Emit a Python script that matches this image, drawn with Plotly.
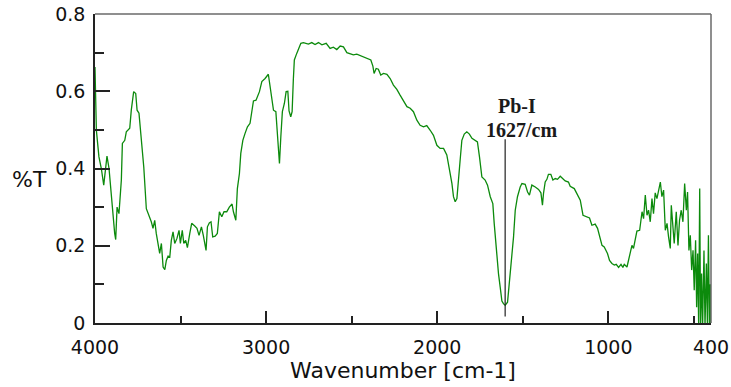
import plotly.graph_objects as go

# FTIR spectrum values
wavenumber = [
    4000, 3997, 3994, 3992, 3977, 3963, 3949, 3937, 3930, 3918, 3911, 3899, 3885, 3879, 3871, 3860,
    3846, 3840, 3826, 3817, 3797, 3788, 3774, 3762, 3754, 3743, 3729, 3715, 3700, 3684, 3671, 3661,
    3651, 3642, 3632, 3622, 3612, 3602, 3592, 3583, 3573, 3563, 3554, 3544, 3534, 3521, 3509, 3501,
    3490, 3481, 3470, 3460, 3446, 3435, 3417, 3404, 3392, 3378, 3367, 3351, 3343, 3332, 3322, 3312,
    3298, 3285, 3273, 3259, 3246, 3230, 3215, 3199, 3191, 3177, 3168, 3156, 3148, 3136, 3123, 3109,
    3094, 3084, 3074, 3059, 3039, 3025, 3006, 2987, 2977, 2967, 2957, 2943, 2934, 2928, 2922, 2914,
    2905, 2893, 2883, 2873, 2866, 2856, 2848, 2841, 2835, 2821, 2809, 2797, 2782, 2753, 2733, 2714,
    2694, 2674, 2649, 2626, 2607, 2587, 2567, 2548, 2528, 2509, 2490, 2470, 2441, 2411, 2388, 2376,
    2369, 2357, 2344, 2330, 2314, 2294, 2275, 2256, 2236, 2217, 2197, 2177, 2158, 2139, 2119, 2100,
    2080, 2061, 2041, 2022, 2002, 1983, 1963, 1944, 1928, 1914, 1905, 1895, 1885, 1876, 1866, 1856,
    1842, 1827, 1812, 1797, 1784, 1765, 1753, 1739, 1720, 1706, 1690, 1675, 1667, 1651, 1642, 1632,
    1622, 1613, 1603, 1589, 1578, 1564, 1554, 1544, 1531, 1515, 1505, 1486, 1472, 1461, 1447, 1427,
    1408, 1394, 1385, 1379, 1369, 1359, 1350, 1336, 1324, 1310, 1297, 1281, 1265, 1252, 1233, 1223,
    1199, 1184, 1164, 1148, 1129, 1110, 1096, 1077, 1063, 1051, 1037, 1024, 1012, 1005, 993, 979,
    965, 954, 940, 926, 915, 907, 891, 882, 872, 862, 853, 843, 833, 817, 809, 803,
    794, 784, 774, 765, 755, 745, 736, 726, 716, 706, 696, 687, 677, 667, 657, 648,
    638, 632, 622, 615, 603, 593, 584, 574, 564, 554, 544, 537, 529, 521, 513, 505,
    498, 490, 484, 478, 472, 466, 461, 455, 449, 441, 435, 427, 421, 415, 409, 404, 400,
]
transmittance = [
    0.663, 0.611, 0.560, 0.499, 0.430, 0.400, 0.357, 0.396, 0.432, 0.400, 0.361, 0.305, 0.232, 0.216, 0.300, 0.283,
    0.370, 0.465, 0.473, 0.495, 0.504, 0.551, 0.599, 0.594, 0.551, 0.543, 0.482, 0.404, 0.296, 0.279, 0.262, 0.245,
    0.266, 0.232, 0.206, 0.180, 0.206, 0.145, 0.138, 0.162, 0.173, 0.171, 0.214, 0.236, 0.206, 0.219, 0.240, 0.206,
    0.240, 0.206, 0.214, 0.195, 0.232, 0.258, 0.251, 0.245, 0.227, 0.249, 0.227, 0.188, 0.249, 0.259, 0.262, 0.223,
    0.225, 0.232, 0.288, 0.275, 0.288, 0.288, 0.300, 0.308, 0.288, 0.266, 0.348, 0.387, 0.439, 0.473, 0.491, 0.508,
    0.517, 0.551, 0.575, 0.577, 0.599, 0.625, 0.633, 0.644, 0.611, 0.581, 0.551, 0.547, 0.482, 0.430, 0.413, 0.482,
    0.547, 0.569, 0.599, 0.600, 0.549, 0.534, 0.547, 0.629, 0.681, 0.698, 0.711, 0.724, 0.726, 0.722, 0.726, 0.721,
    0.726, 0.720, 0.724, 0.711, 0.714, 0.708, 0.717, 0.715, 0.700, 0.696, 0.694, 0.696, 0.691, 0.685, 0.681, 0.665,
    0.646, 0.659, 0.657, 0.642, 0.646, 0.644, 0.633, 0.616, 0.605, 0.590, 0.573, 0.560, 0.556, 0.547, 0.525, 0.512,
    0.508, 0.511, 0.499, 0.486, 0.460, 0.452, 0.452, 0.435, 0.396, 0.361, 0.327, 0.314, 0.322, 0.361, 0.422, 0.473,
    0.489, 0.495, 0.489, 0.478, 0.475, 0.469, 0.430, 0.378, 0.370, 0.357, 0.327, 0.309, 0.258, 0.171, 0.128, 0.093,
    0.057, 0.050, 0.046, 0.054, 0.102, 0.162, 0.223, 0.292, 0.327, 0.352, 0.361, 0.359, 0.339, 0.331, 0.357, 0.352,
    0.346, 0.337, 0.305, 0.335, 0.365, 0.372, 0.385, 0.385, 0.370, 0.374, 0.372, 0.380, 0.372, 0.368, 0.365, 0.354,
    0.348, 0.335, 0.318, 0.279, 0.275, 0.272, 0.253, 0.256, 0.245, 0.223, 0.201, 0.197, 0.188, 0.180, 0.162, 0.154,
    0.150, 0.152, 0.144, 0.152, 0.144, 0.152, 0.145, 0.162, 0.188, 0.201, 0.193, 0.214, 0.238, 0.240, 0.275, 0.288,
    0.270, 0.331, 0.279, 0.292, 0.262, 0.322, 0.283, 0.337, 0.322, 0.346, 0.365, 0.327, 0.344, 0.240, 0.258, 0.223,
    0.193, 0.305, 0.249, 0.206, 0.288, 0.201, 0.266, 0.292, 0.262, 0.361, 0.292, 0.339, 0.188, 0.227, 0.137, 0.188,
    0.085, 0.214, 0.041, 0.180, -0.01, 0.348, -0.01, 0.128, -0.01, 0.188, -0.01, 0.154, -0.01, 0.227, -0.01, 0.100, -0.01,
]

x_tickvals = [4000, 3000, 2000, 1000, 400]
x_minor_tickvals = [3500, 2500, 1500, 500]
y_tickvals = [0, 0.2, 0.4, 0.6, 0.8]
y_ticktext = ["0", "0.2", "0.4", "0.6", "0.8"]

peak_name = "Pb-I"
peak_label = "1627/cm"
peak_position = 1603
peak_marker_range = [0.017, 0.476]

fig = go.Figure()
fig.add_trace(go.Scatter(
    x=wavenumber, y=transmittance, mode="lines",
    line=dict(color="#0c8a0c", width=1.3), showlegend=False,
))

fig.add_shape(type="line", xref="x", yref="y",
              x0=peak_position, x1=peak_position,
              y0=peak_marker_range[0], y1=peak_marker_range[1],
              line=dict(color="#222222", width=1.2))

# gray top / right frame
fig.add_shape(type="line", xref="paper", yref="paper", x0=0, x1=1, y0=1, y1=1,
              line=dict(color="#6a6a6a", width=1.5))
fig.add_shape(type="line", xref="paper", yref="paper", x0=1, x1=1, y0=0, y1=1,
              line=dict(color="#6a6a6a", width=1.5))

serif = dict(family="Liberation Serif", size=20, color="#1a1a1a")
fig.add_annotation(text="<b>" + peak_name + "</b>", xref="x", yref="y", x=1535, y=0.561,
                   showarrow=False, font=serif, xanchor="center", yanchor="middle")
fig.add_annotation(text="<b>" + peak_label + "</b>", xref="x", yref="y", x=1505, y=0.500,
                   showarrow=False, font=serif, xanchor="center", yanchor="middle")
fig.add_annotation(text="%T", xref="paper", yref="paper", x=-0.075, y=0.464,
                   xanchor="right", yanchor="middle", showarrow=False,
                   font=dict(family="DejaVu Sans", size=22, color="#111"))

fig.update_layout(
    width=731, height=387,
    margin=dict(l=95, r=20, t=14, b=64),
    paper_bgcolor="white", plot_bgcolor="white",
    font=dict(family="DejaVu Sans", color="#111"),
    xaxis=dict(
        range=[4000, 400], tickmode="array", tickvals=x_tickvals,
        ticktext=[str(v) for v in x_tickvals], automargin=False,
        ticks="inside", ticklen=12, tickwidth=1.5, tickcolor="#222",
        ticklabelstandoff=6,
        minor=dict(tickmode="array", tickvals=x_minor_tickvals, ticks="inside",
                   ticklen=7, tickwidth=1.5, tickcolor="#222"),
        showline=True, linecolor="#222", linewidth=1.5,
        showgrid=False, zeroline=False,
        tickfont=dict(family="DejaVu Sans", size=19, color="#111"),
        title=dict(text="Wavenumber [cm-1]", font=dict(family="DejaVu Sans", size=22, color="#111"),
                   standoff=5),
    ),
    yaxis=dict(
        range=[0, 0.8], tickmode="array", tickvals=y_tickvals, ticktext=y_ticktext,
        automargin=False,
        ticks="inside", ticklen=15, tickwidth=1.5, tickcolor="#222",
        ticklabelstandoff=4,
        minor=dict(tickmode="array", tickvals=[0.1, 0.3, 0.5, 0.7], ticks="inside",
                   ticklen=9, tickwidth=1.5, tickcolor="#222"),
        showline=True, linecolor="#222", linewidth=1.5,
        showgrid=False, zeroline=False,
        tickfont=dict(family="DejaVu Sans", size=19, color="#111"),
    ),
)

fig.write_html("out.html")
